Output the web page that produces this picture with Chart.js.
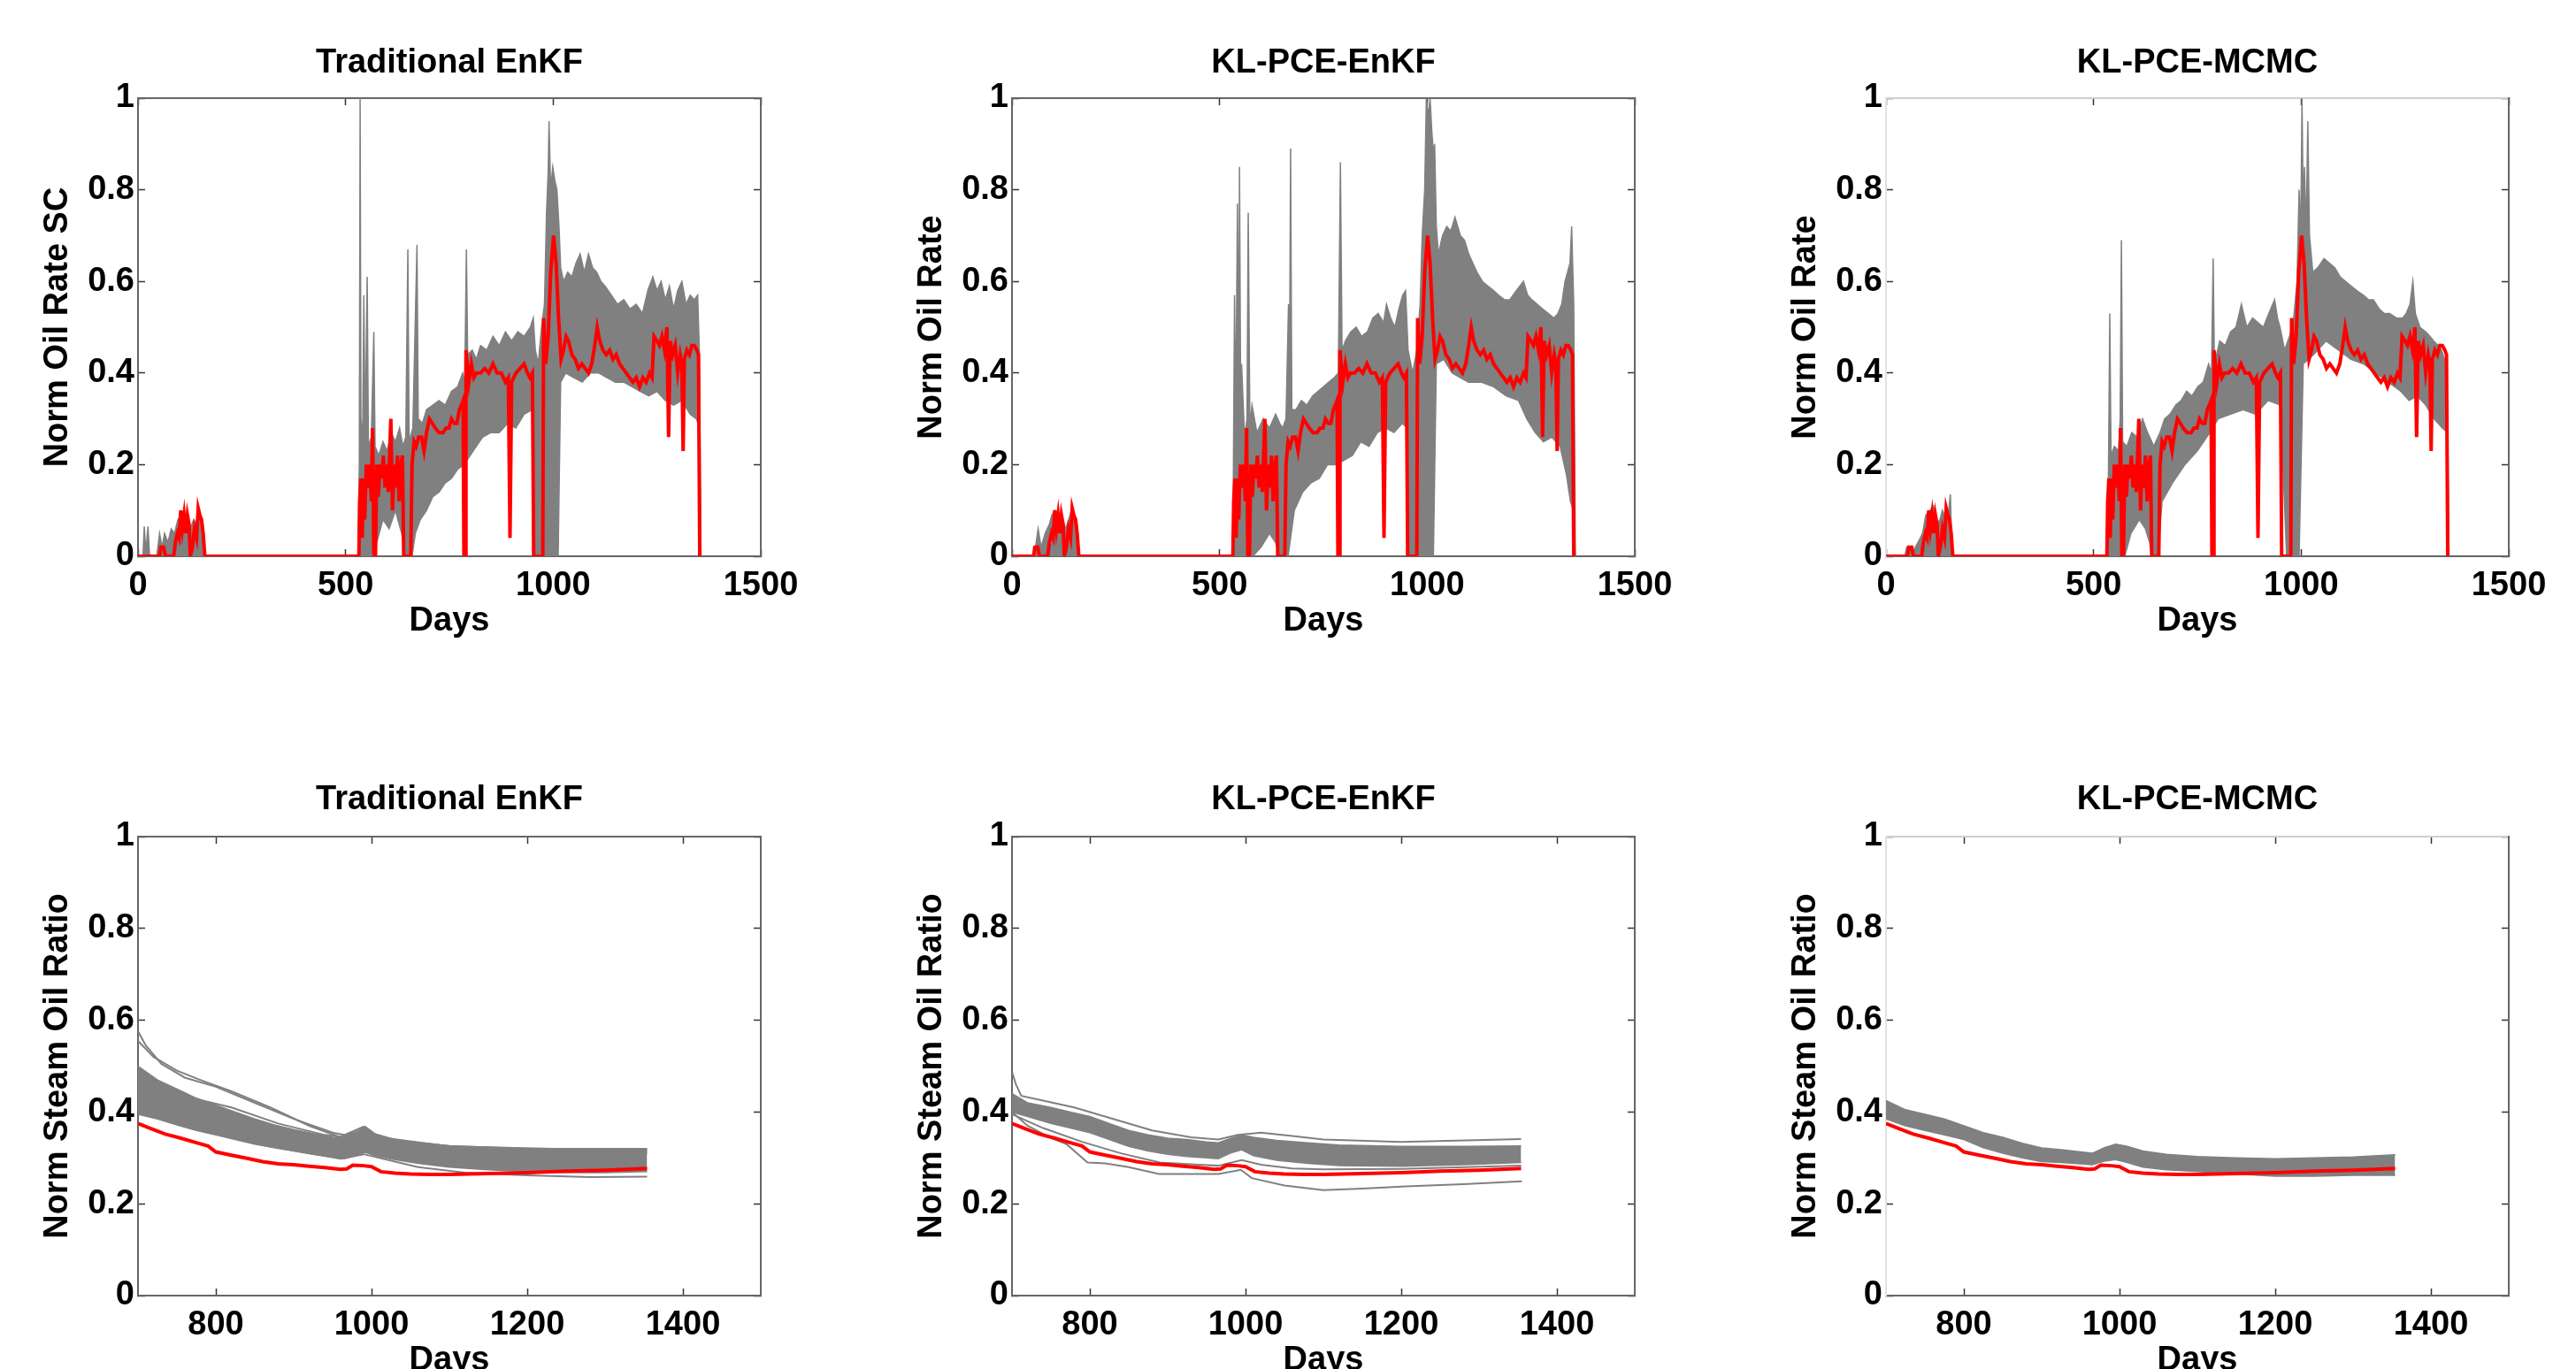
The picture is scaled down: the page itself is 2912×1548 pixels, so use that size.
<!DOCTYPE html>
<html>
<head>
<meta charset="utf-8">
<title>Oil rate / SOR history match</title>
<script src="https://cdn.jsdelivr.net/npm/chart.js@4.4.0/dist/chart.umd.min.js"></script>
<style>
  html, body { margin: 0; padding: 0; background: #fff; overflow: hidden; }
  body { width: 2912px; height: 1548px; position: relative; }
  canvas { position: absolute; }
</style>
</head>
<body>
<canvas id="oil-enkf" width="988" height="774" style="left:0;top:0"></canvas>
<canvas id="oil-klenkf" width="988" height="774" style="left:988px;top:0"></canvas>
<canvas id="oil-mcmc" width="988" height="774" style="left:1976px;top:0"></canvas>
<canvas id="sor-enkf" width="988" height="800" style="left:0;top:774px"></canvas>
<canvas id="sor-klenkf" width="988" height="800" style="left:988px;top:774px"></canvas>
<canvas id="sor-mcmc" width="988" height="800" style="left:1976px;top:774px"></canvas>
<script>
// ---- tick values ----
const oilXTicks = [0, 500, 1000, 1500];
const sorXTicks = [800, 1000, 1200, 1400];
const yTicks = [0, 0.2, 0.4, 0.6, 0.8, 1];

// ---- observed (red) normalised oil rate, [day, value] ----
const obsOilRate = [[0,0],[52,0],[55,0.02],[62,0.02],[66,0],[86,0],[90,0.03],[95,0.05],[99,0.04],[103,0.1],[107,0.06],[111,0.09],[115,0.05],[119,0.09],[123,0.07],[126,0],[131,0.02],[136,0.06],[141,0.04],[145,0.105],[149,0.09],[153,0.08],[157,0.05],[161,0],
  [532,0],[534,0.12],[537,0.17],[540,0.04],[543,0.17],[546,0.08],[550,0.2],[554,0.15],[558,0.2],[562,0.12],[565,0.28],[568,0],[572,0],[575,0.2],[579,0.13],[583,0.2],[587,0.17],[591,0.22],[595,0.15],[599,0.2],[603,0.14],[606,0.22],[609,0.3],[613,0.1],[617,0.2],[621,0.15],[625,0.22],[629,0.12],[633,0.2],[637,0.22],[640,0],[657,0],
  [660,0.2],[665,0.25],[670,0.24],[676,0.26],[683,0.26],[689,0.23],[695,0.27],[702,0.3],[709,0.29],[716,0.28],[725,0.27],[735,0.27],[742,0.28],[749,0.28],[755,0.3],[762,0.29],[768,0.29],[774,0.32],[779,0.33],[783,0.34],[785,0],[789,0],[790,0.45],
  [797,0.38],[803,0.42],[809,0.39],[815,0.4],[825,0.4],[835,0.41],[845,0.4],[855,0.42],[865,0.4],[875,0.4],[885,0.38],[892,0.39],[896,0.04],[900,0.38],[910,0.4],[920,0.41],[930,0.42],[938,0.4],[944,0.39],[950,0.4],[953,0],[975,0],
  [977,0.52],[982,0.42],[988,0.48],[994,0.62],[1001,0.7],[1007,0.64],[1013,0.52],[1019,0.43],[1025,0.45],[1031,0.48],[1037,0.47],[1045,0.44],[1053,0.43],[1061,0.41],[1069,0.42],[1077,0.41],[1085,0.4],[1093,0.42],[1100,0.46],[1106,0.5],[1112,0.47],[1120,0.45],[1128,0.44],[1136,0.45],[1144,0.43],[1152,0.44],[1160,0.42],[1168,0.41],[1176,0.4],[1184,0.39],[1192,0.38],[1200,0.39],[1208,0.37],[1216,0.39],[1224,0.38],[1232,0.4],[1238,0.39],
  [1243,0.48],[1250,0.47],[1256,0.46],[1262,0.48],[1268,0.45],[1274,0.5],[1278,0.26],[1282,0.47],[1288,0.44],[1294,0.46],[1300,0.4],[1306,0.44],[1310,0.42],[1313,0.23],[1316,0.43],[1322,0.45],[1328,0.44],[1334,0.46],[1340,0.46],[1346,0.45],[1350,0.44],[1353,0]];

// ---- ensemble envelopes (gray), oil rate ----
const enkfOilUpper = [[0,0],[12,0],[15,0.065],[19,0.01],[24,0.065],[28,0],[45,0],[52,0.05],[58,0.02],[64,0.05],[72,0.03],[80,0.06],[88,0.05],[96,0.08],[104,0.09],[110,0.07],[118,0.09],[126,0.06],[134,0.08],[142,0.07],[150,0.09],[156,0.07],[162,0],
  [530,0],[533,0.2],[535,1.0],[537,0.3],[541,0.25],[544,0.57],[547,0.25],[552,0.61],[555,0.24],[562,0.26],[568,0.49],[571,0.24],[580,0.22],[590,0.25],[600,0.23],[610,0.27],[620,0.25],[630,0.28],[638,0.24],[645,0.26],[650,0.67],[653,0.25],[662,0.28],[672,0.68],[675,0.3],[685,0.29],[695,0.32],[710,0.33],[725,0.34],[740,0.33],[755,0.36],[770,0.37],[782,0.4],[787,0.38],[791,0.67],[794,0.44],
  [805,0.45],[815,0.43],[825,0.46],[840,0.45],[855,0.48],[870,0.46],[885,0.49],[900,0.47],[915,0.49],[930,0.48],[945,0.5],[952,0.52],[957,0.45],[964,0.42],[972,0.5],[979,0.55],[984,0.75],[988,0.84],[990,0.95],[994,0.8],[999,0.85],[1004,0.82],[1009,0.8],[1014,0.72],[1018,0.63],
  [1025,0.6],[1035,0.62],[1045,0.61],[1055,0.64],[1065,0.66],[1075,0.62],[1085,0.66],[1095,0.63],[1105,0.62],[1115,0.6],[1125,0.59],[1140,0.57],[1155,0.55],[1170,0.56],[1185,0.54],[1200,0.55],[1215,0.53],[1228,0.58],[1240,0.61],[1250,0.58],[1260,0.6],[1270,0.56],[1280,0.59],[1290,0.54],[1300,0.58],[1310,0.6],[1320,0.55],[1330,0.57],[1340,0.56],[1348,0.57],[1352,0.45],[1356,0]];
const enkfOilLower = [[0,0],[530,0],[560,0],[575,0.03],[590,0.08],[605,0.06],[620,0.1],[635,0.05],[645,0],[660,0],[668,0.05],[680,0.08],[695,0.1],[710,0.13],[725,0.14],[740,0.16],[755,0.17],[770,0.19],[785,0.2],[800,0.22],[815,0.24],[830,0.26],[850,0.27],[870,0.27],[890,0.29],[910,0.28],[930,0.31],[950,0.32],[955,0],
  [1012,0],[1018,0.38],[1030,0.4],[1050,0.39],[1070,0.38],[1090,0.4],[1110,0.4],[1130,0.39],[1150,0.38],[1170,0.38],[1190,0.37],[1210,0.36],[1230,0.35],[1250,0.36],[1270,0.34],[1290,0.33],[1310,0.34],[1330,0.31],[1345,0.3],[1352,0.28],[1356,0]];

const klEnkfOilUpper = [[0,0],[50,0],[55,0.01],[63,0.06],[70,0.02],[80,0.05],[90,0.07],[96,0.09],[103,0.1],[111,0.07],[119,0.09],[129,0.06],[137,0.08],[143,0.1],[150,0.09],[156,0.08],[160,0],
  [532,0],[536,0.57],[539,0.3],[543,0.77],[546,0.35],[548,0.85],[551,0.3],[553,0.42],[560,0.26],[566,0.3],[569,0.75],[573,0.28],[578,0.33],[590,0.27],[605,0.3],[620,0.28],[635,0.31],[645,0.29],[652,0.28],[660,0.3],[666,0.55],[668,0.32],[671,0.89],[674,0.32],
  [684,0.32],[697,0.34],[710,0.33],[724,0.35],[737,0.36],[750,0.37],[763,0.38],[776,0.39],[786,0.4],[791,0.86],[795,0.45],[803,0.47],[816,0.49],[829,0.5],[842,0.48],[856,0.49],[869,0.52],[882,0.53],[895,0.51],[902,0.55],[912,0.52],[922,0.5],[932,0.54],[941,0.57],[948,0.58],[954,0.45],[965,0.4],
  [975,0.45],[983,0.55],[988,0.7],[994,0.8],[998,1.0],[1003,0.96],[1007,1.0],[1011,0.93],[1015,0.88],[1018,0.9],[1022,0.72],[1027,0.66],[1037,0.7],[1047,0.72],[1057,0.71],[1067,0.74],[1080,0.7],[1090,0.69],[1100,0.66],[1110,0.64],[1120,0.62],[1133,0.6],[1146,0.59],[1160,0.58],[1172,0.57],[1186,0.56],[1199,0.56],[1215,0.58],[1232,0.6],[1242,0.57],[1252,0.56],[1265,0.55],[1278,0.54],[1292,0.53],[1305,0.52],[1315,0.53],[1324,0.55],[1332,0.6],[1338,0.62],[1344,0.64],[1348,0.72],[1353,0.55],[1357,0]];
const klEnkfOilLower = [[0,0],[539,0],[580,0],[600,0.02],[620,0.05],[635,0.03],[645,0],[665,0],[680,0.1],[700,0.14],[720,0.16],[740,0.17],[760,0.2],[780,0.2],[800,0.21],[820,0.22],[840,0.25],[860,0.24],[880,0.27],[900,0.28],[920,0.27],[940,0.29],[952,0.28],[958,0],
  [1015,0],[1022,0.42],[1040,0.43],[1060,0.4],[1080,0.39],[1100,0.38],[1130,0.38],[1160,0.37],[1190,0.35],[1220,0.34],[1240,0.3],[1260,0.27],[1280,0.25],[1300,0.26],[1320,0.24],[1335,0.18],[1345,0.12],[1352,0.1],[1357,0]];

const mcmcOilUpper = [[0,0],[45,0],[50,0.02],[65,0.01],[77,0.03],[88,0.05],[96,0.09],[106,0.1],[114,0.11],[123,0.07],[130,0.08],[136,0.1],[145,0.08],[150,0.09],[155,0.135],[159,0],
  [533,0],[536,0.2],[539,0.53],[542,0.22],[550,0.24],[560,0.23],[564,0.3],[567,0.69],[570,0.25],[580,0.24],[592,0.27],[605,0.26],[618,0.3],[630,0.27],[645,0.24],[660,0.27],[671,0.3],[684,0.31],[698,0.33],[711,0.34],[724,0.36],[737,0.35],[751,0.37],[764,0.38],[777,0.42],[784,0.4],[788,0.65],[791,0.42],
  [804,0.47],[817,0.46],[830,0.49],[843,0.5],[856,0.55],[869,0.5],[883,0.52],[896,0.51],[909,0.5],[922,0.53],[936,0.56],[943,0.52],[949,0.5],[960,0.45],[972,0.48],[982,0.52],[990,0.6],[995,0.8],[999,0.7],[1002,1.0],[1005,0.75],[1008,0.85],[1012,0.7],[1016,0.95],[1020,0.7],
  [1028,0.62],[1040,0.63],[1055,0.65],[1068,0.64],[1081,0.63],[1094,0.61],[1107,0.6],[1120,0.59],[1134,0.58],[1150,0.57],[1162,0.56],[1174,0.56],[1188,0.54],[1200,0.53],[1213,0.53],[1230,0.52],[1244,0.52],[1253,0.53],[1262,0.55],[1269,0.6],[1275,0.53],[1286,0.5],[1300,0.49],[1310,0.48],[1319,0.47],[1330,0.46],[1338,0.45],[1345,0.43],[1351,0.33],[1356,0]];
const mcmcOilLower = [[0,0],[535,0],[575,0],[590,0.05],[610,0.08],[625,0.06],[635,0.03],[640,0],[655,0],[665,0.12],[690,0.16],[720,0.2],[750,0.23],[780,0.27],[800,0.3],[830,0.31],[860,0.32],[890,0.31],[920,0.34],[950,0.33],[965,0],
  [995,0],[1005,0.42],[1030,0.44],[1060,0.47],[1090,0.45],[1120,0.43],[1150,0.42],[1180,0.4],[1210,0.38],[1240,0.36],[1260,0.34],[1280,0.35],[1300,0.33],[1320,0.3],[1340,0.28],[1353,0.27],[1356,0]];

// ---- observed (red) normalised steam-oil ratio ----
const obsSor = [[700,0.375],[715,0.365],[735,0.352],[755,0.343],[775,0.333],[790,0.326],[800,0.313],[820,0.306],[840,0.299],[860,0.292],[880,0.287],[900,0.285],[920,0.282],[940,0.279],[960,0.275],[968,0.276],[976,0.284],[990,0.283],[1000,0.281],[1012,0.27],[1030,0.267],[1050,0.265],[1075,0.264],[1100,0.264],[1150,0.266],[1200,0.268],[1250,0.271],[1300,0.273],[1354,0.277]];

// ---- ensemble SOR envelopes and individual members ----
const enkfSorUpper = [[700,0.5],[725,0.47],[750,0.45],[775,0.43],[800,0.415],[825,0.4],[850,0.385],[875,0.372],[900,0.362],[925,0.353],[950,0.345],[965,0.343],[980,0.355],[992,0.368],[1005,0.352],[1030,0.34],[1060,0.333],[1100,0.326],[1150,0.32],[1200,0.318],[1250,0.317],[1300,0.317],[1354,0.318]];
const enkfSorLower = [[700,0.395],[725,0.385],[750,0.372],[775,0.36],[800,0.35],[825,0.34],[850,0.33],[875,0.322],[900,0.315],[925,0.308],[950,0.302],[965,0.298],[980,0.305],[992,0.312],[1005,0.305],[1030,0.296],[1060,0.288],[1100,0.28],[1150,0.274],[1200,0.27],[1250,0.268],[1300,0.268],[1354,0.27]];
const enkfSorMember1 = [[700,0.576],[710,0.545],[730,0.505],[760,0.475],[800,0.455],[850,0.42],[900,0.385],[950,0.355],[965,0.35],[990,0.368],[1010,0.345],[1050,0.335],[1100,0.326],[1200,0.32],[1354,0.32]];
const enkfSorMember2 = [[700,0.555],[720,0.52],[750,0.49],[780,0.47],[820,0.445],[870,0.41],[920,0.37],[960,0.345],[990,0.362],[1010,0.345],[1100,0.325],[1354,0.315]];
const enkfSorMember3 = [[700,0.41],[740,0.39],[780,0.37],[820,0.345],[870,0.325],[920,0.31],[960,0.298],[990,0.308],[1010,0.3],[1060,0.28],[1120,0.268],[1200,0.262],[1280,0.258],[1354,0.259]];
const enkfSorMember4 = [[700,0.47],[740,0.44],[755,0.445],[770,0.43],[820,0.41],[880,0.375],[940,0.35],[965,0.345],[990,0.36],[1010,0.342],[1100,0.322],[1354,0.31]];

const klEnkfSorUpper = [[700,0.44],[720,0.42],[750,0.41],[775,0.4],[800,0.39],[825,0.375],[850,0.36],[875,0.35],[900,0.343],[925,0.34],[950,0.335],[965,0.333],[980,0.342],[995,0.35],[1010,0.345],[1040,0.338],[1080,0.333],[1120,0.328],[1200,0.325],[1280,0.325],[1354,0.326]];
const klEnkfSorLower = [[700,0.4],[720,0.39],[750,0.375],[775,0.365],[800,0.355],[825,0.34],[850,0.325],[875,0.315],[900,0.308],[925,0.303],[950,0.3],[965,0.298],[980,0.31],[995,0.318],[1010,0.305],[1040,0.295],[1080,0.288],[1120,0.283],[1200,0.282],[1280,0.285],[1354,0.29]];
const klEnkfSorMember1 = [[700,0.488],[705,0.46],[712,0.435],[740,0.425],[780,0.41],[830,0.385],[880,0.36],[930,0.345],[965,0.34],[990,0.35],[1020,0.355],[1060,0.348],[1100,0.34],[1200,0.335],[1354,0.341]];
const klEnkfSorMember2 = [[700,0.4],[720,0.37],[748,0.345],[770,0.33],[797,0.29],[820,0.288],[850,0.28],[889,0.265],[930,0.265],[965,0.265],[994,0.274],[1008,0.256],[1050,0.24],[1100,0.23],[1150,0.233],[1206,0.238],[1280,0.243],[1355,0.249]];
const klEnkfSorMember3 = [[700,0.395],[740,0.365],[790,0.335],[840,0.31],[890,0.29],[940,0.285],[965,0.283],[995,0.295],[1020,0.285],[1060,0.277],[1100,0.275],[1200,0.276],[1354,0.283]];

const mcmcSorUpper = [[700,0.425],[725,0.405],[750,0.395],[775,0.385],[800,0.37],[825,0.355],[850,0.345],[875,0.332],[900,0.322],[925,0.318],[950,0.313],[965,0.31],[980,0.322],[995,0.33],[1010,0.325],[1030,0.315],[1060,0.308],[1100,0.303],[1150,0.3],[1200,0.298],[1250,0.3],[1300,0.302],[1354,0.307]];
const mcmcSorLower = [[700,0.385],[725,0.37],[750,0.36],[775,0.35],[800,0.34],[825,0.322],[850,0.31],[875,0.3],[900,0.292],[925,0.29],[950,0.287],[965,0.285],[980,0.293],[995,0.296],[1010,0.29],[1030,0.28],[1060,0.274],[1100,0.27],[1150,0.265],[1200,0.26],[1250,0.26],[1300,0.262],[1354,0.262]];

// ---- styling ----
const GRAY = '#808080';
const RED = '#ff0000';
const FONT = "'Liberation Sans', Arial, Helvetica, sans-serif";
Chart.defaults.font.family = FONT;
Chart.defaults.color = '#000';

function pts(arr) {
  return arr.map(p => ({ x: p[0], y: p[1] }));
}

function redLine(arr) {
  return { data: pts(arr), borderColor: RED, borderWidth: 4, fill: false };
}

function grayLine(arr) {
  return { data: pts(arr), borderColor: GRAY, borderWidth: 2, fill: false };
}

// upper line filled down to the lower line that follows it
function grayBand(upper, lower) {
  return [
    { data: pts(upper), borderColor: GRAY, borderWidth: 1.5, backgroundColor: GRAY, fill: '+1' },
    { data: pts(lower), borderColor: GRAY, borderWidth: 1.5, fill: false }
  ];
}

function axis(position, min, max, tickVals, size, borderColor, extra) {
  const horizontal = position === 'top' || position === 'bottom';
  const showLabels = position === 'bottom' || position === 'left';
  return Object.assign({
    type: 'linear',
    position: position,
    min: min,
    max: max,
    afterBuildTicks: s => { s.ticks = tickVals.map(v => ({ value: v })); },
    afterFit: s => { if (horizontal) s.height = size; else s.width = size; },
    grid: { drawOnChartArea: false, drawTicks: true, tickLength: -8, tickColor: '#333', tickWidth: 1.5 },
    border: { display: true, color: borderColor, width: 2 },
    ticks: {
      display: showLabels,
      autoSkip: false,
      maxRotation: 0,
      padding: horizontal ? 23 : 12,
      color: '#000',
      font: { size: 38, weight: 'bold', lineHeight: 1 },
      callback: v => String(v)
    }
  }, extra || {});
}

function makeChart(id, o) {
  const axisTitleFont = { size: 38, weight: 'bold', lineHeight: 1 };
  return new Chart(document.getElementById(id), {
    type: 'line',
    data: { datasets: o.datasets },
    options: {
      responsive: false,
      animation: false,
      devicePixelRatio: 1,
      layout: { padding: { left: 0, right: 128, top: 0, bottom: 0 } },
      elements: { point: { radius: 0 }, line: { tension: 0 } },
      plugins: {
        legend: { display: false },
        tooltip: { enabled: false },
        title: {
          display: true,
          text: o.title,
          fullSize: false,
          color: '#000',
          font: { size: 38, weight: 'bold', lineHeight: 1 },
          padding: { top: o.titleTop, bottom: o.titleBottom }
        }
      },
      scales: {
        x: axis('bottom', o.xMin, o.xMax, o.xTicks, o.xHeight, '#666', {
          title: { display: true, text: 'Days', color: '#000', font: axisTitleFont, padding: { top: 0, bottom: o.daysPad } }
        }),
        x2: axis('top', o.xMin, o.xMax, o.xTicks, 0, o.faint ? '#cfcfcf' : '#666'),
        y: axis('left', 0, 1, yTicks, 156, o.faint ? '#e2e2e2' : '#666', {
          title: { display: true, text: o.yLabel, color: '#000', font: axisTitleFont, padding: { top: 47, bottom: 0 } }
        }),
        y2: axis('right', 0, 1, yTicks, 0, '#666')
      }
    }
  });
}

// ---- top row: oil rate ----
const oilRow = { xMin: 0, xMax: 1500, xTicks: oilXTicks, xHeight: 145, titleTop: 53, titleBottom: 20, daysPad: 52 };

makeChart('oil-enkf', Object.assign({}, oilRow, {
  title: 'Traditional EnKF', yLabel: 'Norm Oil Rate SC',
  datasets: [redLine(obsOilRate)].concat(grayBand(enkfOilUpper, enkfOilLower))
}));
makeChart('oil-klenkf', Object.assign({}, oilRow, {
  title: 'KL-PCE-EnKF', yLabel: 'Norm Oil Rate',
  datasets: [redLine(obsOilRate)].concat(grayBand(klEnkfOilUpper, klEnkfOilLower))
}));
makeChart('oil-mcmc', Object.assign({}, oilRow, {
  title: 'KL-PCE-MCMC', yLabel: 'Norm Oil Rate', faint: true,
  datasets: [redLine(obsOilRate)].concat(grayBand(mcmcOilUpper, mcmcOilLower))
}));

// ---- bottom row: steam-oil ratio ----
const sorRow = { xMin: 700, xMax: 1500, xTicks: sorXTicks, xHeight: 109, titleTop: 112, titleBottom: 22, daysPad: 16 };

makeChart('sor-enkf', Object.assign({}, sorRow, {
  title: 'Traditional EnKF', yLabel: 'Norm Steam Oil Ratio',
  datasets: [redLine(obsSor)].concat(grayBand(enkfSorUpper, enkfSorLower),
    [grayLine(enkfSorMember1), grayLine(enkfSorMember2), grayLine(enkfSorMember3), grayLine(enkfSorMember4)])
}));
makeChart('sor-klenkf', Object.assign({}, sorRow, {
  title: 'KL-PCE-EnKF', yLabel: 'Norm Steam Oil Ratio',
  datasets: [redLine(obsSor)].concat(grayBand(klEnkfSorUpper, klEnkfSorLower),
    [grayLine(klEnkfSorMember1), grayLine(klEnkfSorMember2), grayLine(klEnkfSorMember3)])
}));
makeChart('sor-mcmc', Object.assign({}, sorRow, {
  title: 'KL-PCE-MCMC', yLabel: 'Norm Steam Oil Ratio', faint: true,
  datasets: [redLine(obsSor)].concat(grayBand(mcmcSorUpper, mcmcSorLower))
}));
</script>
</body>
</html>
